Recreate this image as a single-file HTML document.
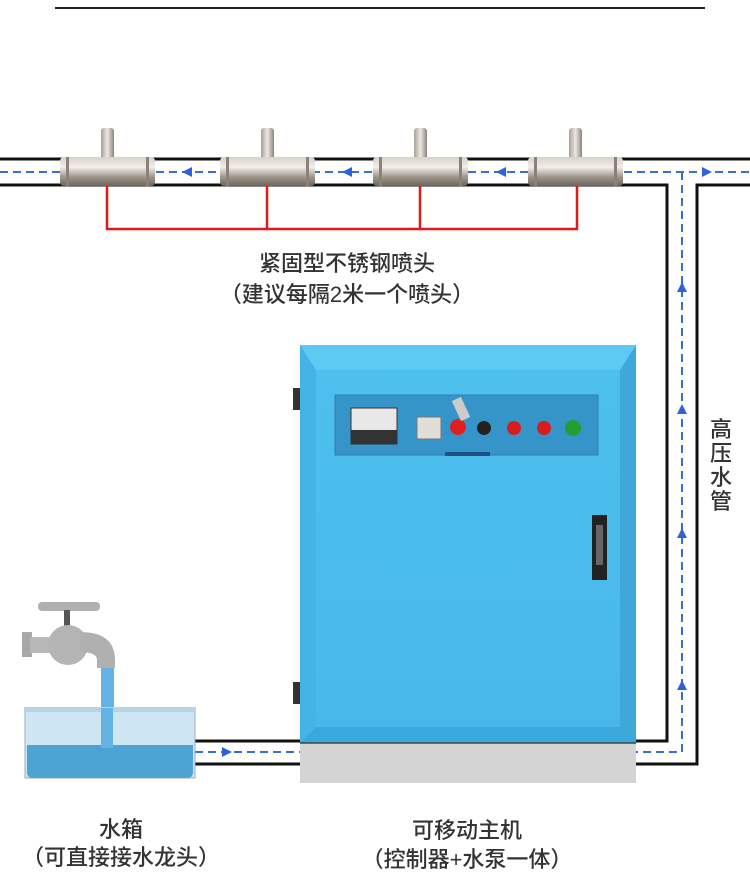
<!DOCTYPE html>
<html><head><meta charset="utf-8"><style>
body{margin:0;background:#fff;width:750px;height:885px;overflow:hidden;position:relative;font-family:"Liberation Sans","Noto Sans CJK SC",sans-serif}
.t{position:absolute;color:#333;font-size:22px;line-height:26px;white-space:nowrap;transform:translateX(-50%);font-weight:500}
</style></head><body>
<svg width="750" height="885" style="position:absolute;left:0;top:0">
<defs>
<linearGradient id="mt" x1="0" y1="0" x2="0" y2="1"><stop offset="0" stop-color="#d8d2c8"/><stop offset=".35" stop-color="#f2eee8"/><stop offset=".7" stop-color="#9c9388"/><stop offset="1" stop-color="#6e665c"/></linearGradient>
<linearGradient id="nz" x1="0" y1="0" x2="1" y2="0"><stop offset="0" stop-color="#a8a096"/><stop offset=".5" stop-color="#ece8e2"/><stop offset="1" stop-color="#8c847a"/></linearGradient>
<linearGradient id="bl" x1="0" y1="0" x2="0" y2="1"><stop offset="0" stop-color="#4cc0ee"/><stop offset="1" stop-color="#48b8ea"/></linearGradient>
</defs>
<line x1="55" y1="8" x2="705" y2="8" stroke="#222" stroke-width="2"/>
<line x1="0" y1="159" x2="750" y2="159" stroke="#111" stroke-width="3"/>
<polyline points="0,185 667,185 667,741 636,741" fill="none" stroke="#111" stroke-width="3"/>
<polyline points="750,185 697,185 697,764 636,764" fill="none" stroke="#111" stroke-width="3"/>
<polyline points="0,172 682,172 750,172" fill="none" stroke="#3a6fd0" stroke-width="2" stroke-dasharray="8,5"/>
<polyline points="682,172 682,752 636,752" fill="none" stroke="#3a6fd0" stroke-width="2" stroke-dasharray="8,5"/>
<line x1="195" y1="741" x2="300" y2="741" stroke="#111" stroke-width="3"/>
<line x1="195" y1="764" x2="300" y2="764" stroke="#111" stroke-width="3"/>
<line x1="195" y1="752" x2="300" y2="752" stroke="#3a6fd0" stroke-width="2" stroke-dasharray="8,5"/>
<g fill="#2f62d8">
<polygon points="182,172 192,167 192,177"/><polygon points="342,172 352,167 352,177"/><polygon points="496,172 506,167 506,177"/>
<polygon points="712,172 702,167 702,177"/>
<polygon points="232,752 222,747 222,757"/>
<polygon points="682,282 677,292 687,292"/><polygon points="682,404 677,414 687,414"/><polygon points="682,528 677,538 687,538"/><polygon points="682,680 677,690 687,690"/>
</g>
<polyline points="107,186 107,229 577,229 577,186" fill="none" stroke="#e01818" stroke-width="2.5"/>
<line x1="267" y1="186" x2="267" y2="229" stroke="#e01818" stroke-width="2.5"/>
<line x1="420" y1="186" x2="420" y2="229" stroke="#e01818" stroke-width="2.5"/>
<g>
<g transform="translate(60,0)"><rect x="41" y="128" width="13" height="32" rx="3" fill="url(#nz)"/><rect x="0" y="157" width="95" height="29" rx="4" fill="url(#mt)"/><rect x="6" y="157" width="3" height="29" fill="#8a8278"/><rect x="86" y="157" width="3" height="29" fill="#8a8278"/></g>
<g transform="translate(220,0)"><rect x="41" y="128" width="13" height="32" rx="3" fill="url(#nz)"/><rect x="0" y="157" width="95" height="29" rx="4" fill="url(#mt)"/><rect x="6" y="157" width="3" height="29" fill="#8a8278"/><rect x="86" y="157" width="3" height="29" fill="#8a8278"/></g>
<g transform="translate(373,0)"><rect x="41" y="128" width="13" height="32" rx="3" fill="url(#nz)"/><rect x="0" y="157" width="95" height="29" rx="4" fill="url(#mt)"/><rect x="6" y="157" width="3" height="29" fill="#8a8278"/><rect x="86" y="157" width="3" height="29" fill="#8a8278"/></g>
<g transform="translate(528,0)"><rect x="41" y="128" width="13" height="32" rx="3" fill="url(#nz)"/><rect x="0" y="157" width="95" height="29" rx="4" fill="url(#mt)"/><rect x="6" y="157" width="3" height="29" fill="#8a8278"/><rect x="86" y="157" width="3" height="29" fill="#8a8278"/></g>
</g>
<rect x="300" y="345" width="336" height="398" fill="url(#bl)"/>
<polygon points="300,345 636,345 620,370 316,370" fill="#5ccaf2"/>
<polygon points="300,743 636,743 620,727 316,727" fill="#3aa8dc"/>
<polygon points="300,345 316,370 316,727 300,743" fill="#44b4e6"/>
<polygon points="636,345 620,370 620,727 636,743" fill="#3ea8d8"/>
<rect x="293" y="388" width="7" height="22" fill="#333"/>
<rect x="293" y="682" width="7" height="22" fill="#333"/>
<rect x="300" y="743" width="336" height="40" fill="#d4d4d4"/>
<line x1="300" y1="743" x2="636" y2="743" stroke="#444" stroke-width="1.5"/>
<rect x="335" y="395" width="263" height="60" fill="#3595c8" stroke="#2a7fb0"/>
<rect x="351" y="408" width="46" height="36" fill="#e8e8e8" stroke="#333"/>
<rect x="351" y="430" width="46" height="14" fill="#333"/>
<rect x="417" y="417" width="24" height="22" fill="#e0dcd6" stroke="#777"/>
<circle cx="458" cy="427" r="8" fill="#e02020"/>
<rect x="456" y="398" width="10" height="22" fill="#ccc" transform="rotate(-25 461 409)"/>
<circle cx="484" cy="428" r="7" fill="#222"/>
<circle cx="514" cy="428" r="7" fill="#d81c1c"/>
<circle cx="544" cy="428" r="7" fill="#d81c1c"/>
<circle cx="573" cy="428" r="8" fill="#20a030"/>
<rect x="445" y="452" width="45" height="4" fill="#1e4f86"/>
<rect x="592" y="515" width="15" height="65" fill="#222"/>
<rect x="596" y="525" width="7" height="40" fill="#666"/>
<rect x="38" y="602" width="62" height="9" rx="4" fill="#b0b0b0"/>
<rect x="64" y="610" width="6" height="16" fill="#555"/>
<rect x="22" y="632" width="10" height="25" fill="#a8a8a8"/>
<rect x="30" y="637" width="20" height="16" fill="#b8b8b8"/>
<circle cx="68" cy="645" r="20" fill="#b4b4b4"/>
<path d="M80,632 Q115,632 115,660 L115,668 L97,668 L97,660 Q97,652 80,652 Z" fill="#b0b0b0"/>
<rect x="101" y="668" width="13" height="40" fill="#4aa6e0" opacity=".85"/>
<rect x="25" y="710" width="170" height="68" fill="#cde6f2" stroke="#9ac" />
<rect x="24" y="707" width="172" height="5" fill="#b8d4e4"/>
<path d="M27,745 L193,745 L193,772 Q193,778 187,778 L33,778 Q27,778 27,772 Z" fill="#4ba4d4"/>
<rect x="101" y="708" width="12" height="40" fill="#63b4e4"/>
</svg>
<div class="t" style="left:347px;top:251px">紧固型不锈钢喷头</div>
<div class="t" style="left:347px;top:282px">（建议每隔2米一个喷头）</div>
<div style="position:absolute;left:710px;top:418px;width:24px;font-size:22px;line-height:24px;color:#333;font-weight:500">高压水管</div>
<div class="t" style="left:121px;top:817px">水箱</div>
<div class="t" style="left:121px;top:845px">（可直接接水龙头）</div>
<div class="t" style="left:467px;top:818px">可移动主机</div>
<div class="t" style="left:467px;top:847px">（控制器+水泵一体）</div>
</body></html>
